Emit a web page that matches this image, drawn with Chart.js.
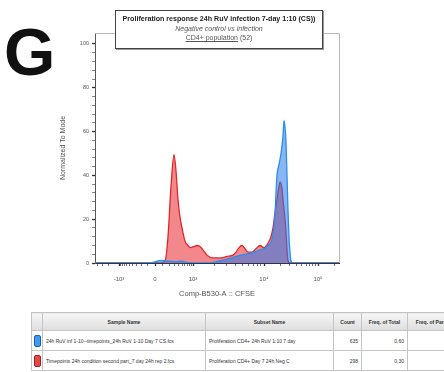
<!DOCTYPE html>
<html>
<head>
<meta charset="utf-8">
<script src="https://cdn.jsdelivr.net/npm/chart.js@4"></script>
<style>
  body { margin: 0; width: 444px; height: 372px; position: relative; overflow: hidden; background: #fff; font-family: 'Liberation Sans', Arial, sans-serif; }
  #letter { position: absolute; left: 4px; top: 19px; font-size: 66px; line-height: 1; font-weight: bold; color: #111; }
  #wrap { position: absolute; left: 0; top: 0; width: 444px; height: 300px; }
  #box { position: absolute; left: 115px; top: 10px; width: 206px; height: 37px; border: 1px solid #444; box-shadow: 1px 1px 0 #999; background: #fff; text-align: center; color: #222; }
  #box .t1 { font-weight: bold; font-size: 7.1px; margin-top: 4px; white-space: nowrap; }
  #box .t2 { font-style: italic; font-size: 7px; color: #555; margin-top: 2px; }
  #box .t3 { font-size: 7px; color: #555; margin-top: 2px; }
  #box .t3 u { text-decoration: underline; }
  table { position: absolute; left: 31px; top: 312px; width: 428px; border-collapse: collapse; table-layout: fixed; font-size: 5px; color: #333; }
  th, td { border: 1px solid #c4c4c4; padding: 0 3px; white-space: nowrap; overflow: hidden; }
  th { height: 17px; background: linear-gradient(#f6f6f6, #dedede); font-weight: bold; text-align: center; }
  td { height: 19px; }
  td.num { text-align: right; }
  .sw { display: inline-block; width: 5px; height: 10px; border-radius: 2px; vertical-align: middle; }
</style>
</head>
<body>
<div id="letter">G</div>
<div id="wrap"><canvas id="histChart"></canvas></div>
<div id="box">
  <div class="t1">Proliferation response 24h RuV infection 7-day 1:10 (CS))</div>
  <div class="t2">Negative control vs infection</div>
  <div class="t3"><u>CD4+ population</u> (52)</div>
</div>
<table id="tbl">
  <colgroup><col style="width:11px"><col style="width:163px"><col style="width:128px"><col style="width:28px"><col style="width:46px"><col style="width:52px"></colgroup>
  <thead><tr><th></th><th>Sample Name</th><th>Subset Name</th><th>Count</th><th>Freq. of Total</th><th>Freq. of Parent</th></tr></thead>
  <tbody></tbody>
</table>
<script>
// CFSE axis positions (display units of the biexponential axis)
const xTickPos = [24, 60, 98, 169, 223];
const xTickLabels = ['-10³', '0', '10³', '10⁴', '10⁵'];
const yMajor = [0, 20, 40, 60, 80, 100];

// Infected sample (blue)
const blueX = [0, 55, 60, 63, 67, 73, 80, 87, 91, 95, 115, 123, 130, 137, 145, 151, 155, 161, 165, 169, 173, 176, 178, 180, 181, 182, 184, 186, 188, 189, 190, 191, 192, 193, 194, 195, 196, 198, 244];
const blueY = [0, 0, 0.5, 1, 1.2, 0.8, 0.6, 0.8, 0.3, 0, 0, 0.8, 1.5, 2.5, 3.5, 4, 4.5, 5.2, 6, 6.5, 8, 9.5, 13, 22, 32, 40, 45, 50, 58, 65, 62, 55, 40, 24, 12, 5, 1, 0, 0];

// Negative control (red)
const redX = [0, 65, 70, 73, 76, 79, 81, 83, 85, 87, 90, 93, 95, 99, 102, 105, 108, 112, 118, 125, 132, 138, 141, 144, 147, 150, 153, 157, 161, 165, 169, 173, 176, 178, 180, 182, 184, 185, 187, 188, 190, 191, 192, 193, 195, 244];
const redY = [0, 0, 1, 12, 35, 49.5, 42, 29, 21, 16, 10, 8, 7, 7.5, 8, 7.5, 6, 3.6, 2.3, 2.3, 3, 3.6, 5, 7, 8, 6.5, 5, 5, 6.5, 8, 7, 9, 12, 16, 23, 29, 35, 37, 34, 29, 20, 14, 6, 1, 0, 0];

const sampleNames = ['24h RuV inf 1-10--timepoints_24h RuV 1-10 Day 7 CS.fcs', 'Timepoints 24h condition second part_7 day 24h rep 2.fcs'];
const subsetNames = ['Proliferation CD4+ 24h RuV 1:10 7 day', 'Proliferation CD4+ Day 7 24h Neg C'];
const counts = ['635', '298'];
const freqTotal = ['0,60', '0,30'];
const freqParent = ['100', '100'];
const swatch = ['#3c9cf0', '#e64848'];
const swatchBorder = ['#1a5fa8', '#a02020'];

const tbody = document.querySelector('#tbl tbody');
for (let i = 0; i < sampleNames.length; i++) {
    const tr = document.createElement('tr');
    tr.innerHTML = '<td style="padding:0 2px"><span class="sw" style="background:' + swatch[i] + ';border:1px solid ' + swatchBorder[i] + '"></span></td>' +
        '<td>' + sampleNames[i] + '</td><td>' + subsetNames[i] + '</td>' +
        '<td class="num">' + counts[i] + '</td><td class="num">' + freqTotal[i] + '</td><td class="num">' + freqParent[i] + '</td>';
    tbody.appendChild(tr);
}

// minor ticks on the CFSE axis
const xMinor = [];
[-4000, -3000, -2000].forEach(v => xMinor.push(60 - 36 * Math.asinh(-v / 200) / Math.asinh(5)));
for (let k = 1; k <= 9; k++) {
    xMinor.push(60 - 36 * Math.asinh(k / 2) / Math.asinh(5));
    xMinor.push(60 + 38 * Math.asinh(k / 2) / Math.asinh(5));
}
for (let k = 2; k <= 9; k++) {
    xMinor.push(98 + 71 * Math.log10(k));
    xMinor.push(169 + 54 * Math.log10(k));
}
xMinor.push(223 + 54 * Math.log10(2));
const xAllTicks = xTickPos.concat(xMinor).sort((a, b) => a - b);

const yAllTicks = [];
for (let v = 0; v <= 100; v += 4) yAllTicks.push(v);

const frame = {
    id: 'frame',
    beforeDatasetsDraw(chart) {
        const a = chart.chartArea, c = chart.ctx;
        c.save();
        c.strokeStyle = '#b8b8b8';
        c.lineWidth = 1;
        c.beginPath();
        c.moveTo(a.left, a.top + 0.5);
        c.lineTo(a.right + 0.5, a.top + 0.5);
        c.lineTo(a.right + 0.5, a.bottom);
        c.stroke();
        c.restore();
    }
};

const ctx = document.getElementById('histChart').getContext('2d');
const histChart = new Chart(ctx, {
    type: 'line',
    data: {
        datasets: [{
            label: 'Infection',
            data: blueX.map((x, i) => ({ x: x, y: blueY[i] })),
            borderColor: '#2a8ef0',
            backgroundColor: 'rgba(40,120,235,0.55)',
            borderWidth: 1.3,
            fill: 'origin',
            pointRadius: 0,
            cubicInterpolationMode: 'monotone'
        }, {
            label: 'Negative control',
            data: redX.map((x, i) => ({ x: x, y: redY[i] })),
            borderColor: '#e02828',
            backgroundColor: 'rgba(232,50,56,0.58)',
            borderWidth: 1.3,
            fill: 'origin',
            pointRadius: 0,
            cubicInterpolationMode: 'monotone'
        }]
    },
    options: {
        responsive: true,
        maintainAspectRatio: false,
        animation: false,
        layout: { padding: { left: 55, right: 105, top: 33, bottom: 0 } },
        plugins: { legend: { display: false }, tooltip: { enabled: false } },
        scales: {
            x: {
                type: 'linear',
                min: 0,
                max: 244,
                afterBuildTicks: s => { s.ticks = xAllTicks.map(v => ({ value: v })); },
                afterFit: s => { s.height = 37; },
                ticks: {
                    autoSkip: false,
                    maxRotation: 0,
                    padding: 10,
                    color: '#555',
                    font: { size: 6 },
                    callback: v => {
                        const i = xTickPos.indexOf(v);
                        return i >= 0 ? xTickLabels[i] : '';
                    }
                },
                grid: {
                    drawOnChartArea: false,
                    tickLength: 3,
                    tickColor: '#333',
                    tickWidth: c => (c.tick && xTickPos.includes(c.tick.value)) ? 1.3 : 0.7
                },
                border: { color: '#334', width: 1 },
                title: { display: true, text: 'Comp-B530-A :: CFSE', color: '#555', font: { size: 7.5 }, padding: 2 }
            },
            y: {
                min: 0,
                max: 105,
                afterBuildTicks: s => { s.ticks = yAllTicks.map(v => ({ value: v })); },
                afterFit: s => { s.width = 40; },
                ticks: {
                    autoSkip: false,
                    padding: 3,
                    color: '#555',
                    font: { size: 5.5 },
                    callback: v => yMajor.includes(v) ? String(v) : ''
                },
                grid: {
                    drawOnChartArea: false,
                    tickLength: 3,
                    tickColor: '#333',
                    tickWidth: c => (c.tick && yMajor.includes(c.tick.value)) ? 1.3 : 0.6
                },
                border: { color: '#555', width: 1 },
                title: { display: true, text: 'Normalized To Mode', color: '#555', font: { size: 7 }, padding: 4 }
            }
        }
    },
    plugins: [frame]
});
</script>
</body>
</html>
